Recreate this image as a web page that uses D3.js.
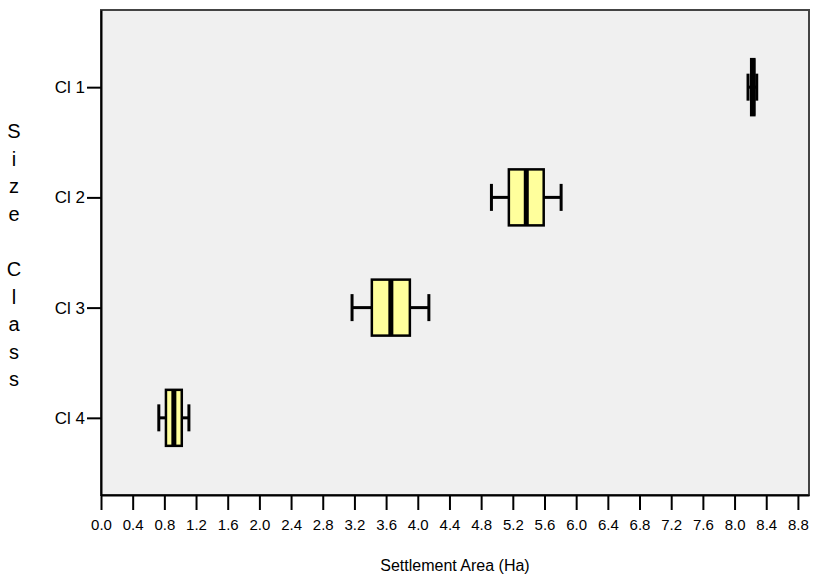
<!DOCTYPE html>
<html>
<head>
<meta charset="utf-8">
<script src="https://cdn.jsdelivr.net/npm/d3@7"></script>
<style>
  body { margin: 0; background: #fff; }
  svg { display: block; font-family: "Liberation Sans", Arial, sans-serif; }
</style>
</head>
<body>
<svg width="813" height="575"></svg>
<script>
// size classes and their box summaries (hectares)
const classes = ["Cl 1", "Cl 2", "Cl 3", "Cl 4"];
const mins    = [8.17, 4.93, 3.17, 0.73];
const q1s     = [8.21, 5.15, 3.42, 0.82];
const medians = [8.23, 5.37, 3.66, 0.92];
const q3s     = [8.25, 5.59, 3.90, 1.02];
const maxs    = [8.28, 5.81, 4.14, 1.11];
const xTicks  = d3.range(0, 8.81, 0.4);

const svg = d3.select("svg");
const plotLeft = 101, plotRight = 809, plotTop = 10, plotBottom = 495;

const x = d3.scaleLinear().domain([0, 8.94]).range([plotLeft, plotRight]);
const y = d3.scalePoint().domain(classes).range([plotTop, plotBottom]).padding(0.7);
const boxH = 56, capH = 27;

// plot background
svg.append("rect")
    .attr("x", plotLeft).attr("y", plotTop)
    .attr("width", plotRight - plotLeft).attr("height", plotBottom - plotTop)
    .attr("fill", "#f0f0f0")
    .attr("stroke", "#444").attr("stroke-width", 2);

const data = classes.map((c, i) => ({
    c: c, min: mins[i], q1: q1s[i], med: medians[i], q3: q3s[i], max: maxs[i]
}));

const g = svg.append("g").selectAll("g")
    .data(data)
    .enter().append("g");

// whisker lines
g.append("line")
    .attr("x1", d => x(d.min)).attr("x2", d => x(d.q1))
    .attr("y1", d => y(d.c)).attr("y2", d => y(d.c))
    .attr("stroke", "#000").attr("stroke-width", 3);
g.append("line")
    .attr("x1", d => x(d.q3)).attr("x2", d => x(d.max))
    .attr("y1", d => y(d.c)).attr("y2", d => y(d.c))
    .attr("stroke", "#000").attr("stroke-width", 3);

// caps
g.selectAll(".cap")
    .data(d => [{v: d.min, c: d.c}, {v: d.max, c: d.c}])
    .enter().append("line")
    .attr("class", "cap")
    .attr("x1", d => x(d.v)).attr("x2", d => x(d.v))
    .attr("y1", d => y(d.c) - capH / 2).attr("y2", d => y(d.c) + capH / 2)
    .attr("stroke", "#000").attr("stroke-width", 3);

// boxes
g.append("rect")
    .attr("x", d => x(d.q1)).attr("width", d => x(d.q3) - x(d.q1))
    .attr("y", d => y(d.c) - boxH / 2).attr("height", boxH)
    .attr("fill", "#ffff9c")
    .attr("stroke", "#000").attr("stroke-width", 2.5);

// medians
g.append("line")
    .attr("x1", d => x(d.med)).attr("x2", d => x(d.med))
    .attr("y1", d => y(d.c) - boxH / 2).attr("y2", d => y(d.c) + boxH / 2)
    .attr("stroke", "#000").attr("stroke-width", 5);

// axes
const xAxis = svg.append("g")
    .attr("transform", `translate(0,${plotBottom})`)
    .call(d3.axisBottom(x).tickValues(xTicks).tickFormat(d3.format(".1f"))
        .tickSize(15).tickSizeOuter(0).tickPadding(9));
xAxis.attr("font-size", 15).attr("font-family", null);
xAxis.select(".domain").attr("stroke", "#000").attr("stroke-width", 2);
xAxis.selectAll(".tick line").attr("stroke", "#000").attr("stroke-width", 2);
xAxis.selectAll("text").attr("fill", "#000");

const yAxis = svg.append("g")
    .attr("transform", `translate(${plotLeft},0)`)
    .call(d3.axisLeft(y).tickSize(14).tickSizeOuter(0).tickPadding(2));
yAxis.attr("font-size", 17).attr("font-family", null);
yAxis.select(".domain").attr("stroke", "#000").attr("stroke-width", 2);
yAxis.selectAll(".tick line").attr("stroke", "#000").attr("stroke-width", 2);
yAxis.selectAll("text").attr("fill", "#000");

// titles
svg.append("text")
    .attr("x", (plotLeft + plotRight) / 2).attr("y", 571)
    .attr("text-anchor", "middle")
    .attr("font-size", 16)
    .text("Settlement Area (Ha)");

const yTitle = "Size Class".split("");
svg.append("g").selectAll("text")
    .data(yTitle)
    .enter().append("text")
    .attr("x", 14)
    .attr("y", (d, i) => 138 + i * 27.6)
    .attr("text-anchor", "middle")
    .attr("font-size", 20)
    .text(d => d);
</script>
</body>
</html>
